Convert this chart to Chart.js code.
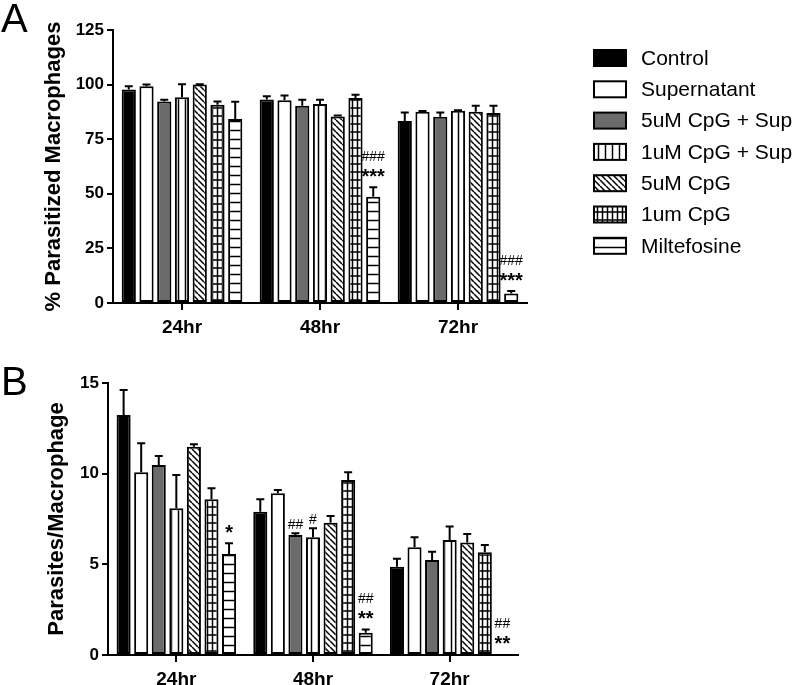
<!DOCTYPE html>
<html>
<head>
<meta charset="utf-8">
<script src="https://cdn.jsdelivr.net/npm/chart.js@4.4.1/dist/chart.umd.min.js"></script>
<style>
  body { margin: 0; background: #fff; }
  #wrap { position: relative; width: 800px; height: 685px; overflow: hidden; }
  canvas { position: absolute; left: 0; }
  #chartA { top: 0; }
  #chartB { top: 335px; }
  .panel { position: absolute; left: 1px; font: 40px "Liberation Sans", Arial, sans-serif; line-height: 1; }
</style>
</head>
<body>
<div id="wrap">
  <canvas id="chartA" width="800" height="335"></canvas>
  <canvas id="chartB" width="800" height="350"></canvas>
  <div class="panel" style="top:-2px">A</div>
  <div class="panel" style="top:361px">B</div>
</div>
<script>
// time points and treatment groups
const timepoints = ['24hr', '48hr', '72hr'];
const groups = ['Control', 'Supernatant', '5uM CpG + Sup', '1uM CpG + Sup', '5uM CpG', '1um CpG', 'Miltefosine'];

// panel A: % parasitized macrophages (mean, SEM) per group
const pctControl = [97.8, 93.2, 83.3];
const pctSupernatant = [99.3, 92.8, 87.6];
const pct5uMSup = [92.3, 90.3, 85.3];
const pct1uMSup = [94.2, 91.1, 88.0];
const pct5uM = [100, 85.4, 87.6];
const pct1uM = [90.8, 93.9, 87.0];
const pctMilte = [84.2, 48.6, 4.3];

const pctControlErr = [1.5, 1.5, 3.9];
const pctSupernatantErr = [0.8, 2.2, 0.3];
const pct5uMSupErr = [0.8, 2.8, 1.9];
const pct1uMSupErr = [6.0, 2.0, 0.2];
const pct5uMErr = [0.2, 0.4, 2.7];
const pct1uMErr = [1.5, 1.5, 3.3];
const pctMilteErr = [8.0, 4.4, 1.2];

// panel B: parasites per macrophage (mean, SEM)
const ppmControl = [13.24, 7.9, 4.87];
const ppmSupernatant = [10.08, 8.92, 5.94];
const ppm5uMSup = [10.48, 6.62, 5.24];
const ppm1uMSup = [8.09, 6.49, 6.34];
const ppm5uM = [11.49, 7.3, 6.21];
const ppm1uM = [8.59, 9.65, 5.66];
const ppmMilte = [5.57, 1.23, 0.05];

const ppmControlErr = [1.38, 0.69, 0.44];
const ppmSupernatantErr = [1.6, 0.18, 0.55];
const ppm5uMSupErr = [0.5, 0.1, 0.46];
const ppm1uMSupErr = [1.84, 0.5, 0.74];
const ppm5uMErr = [0.13, 0.37, 0.46];
const ppm1uMErr = [0.6, 0.43, 0.41];
const ppmMilteErr = [0.59, 0.18, 0];

// significance marks: [group index, timepoint index, lines from bottom up]
const marksA = [[6, 1, '***', '###'], [6, 2, '***', '###']];
const marksB = [[6, 0, '*'], [2, 1, '##'], [3, 1, '#'], [6, 1, '**', '##'], [6, 2, '**', '##']];

const FONT = '"Liberation Sans", Arial, sans-serif';

//builds the hatch fills used by prism style bars
function makePattern(kind) {
  const c = document.createElement('canvas');
  const g = c.getContext('2d');
  let w = 8, h = 8;
  if (kind === 'diag') { w = 6; h = 6; }
  if (kind === 'grid') { w = 5; h = 8; }
  if (kind === 'hlines') { w = 8; h = 9; }
  if (kind === 'vlines') { w = 7; h = 8; }
  c.width = w; c.height = h;
  g.fillStyle = '#fff';
  g.fillRect(0, 0, w, h);
  g.strokeStyle = '#000';
  g.lineWidth = 1.5;
  g.beginPath();
  if (kind === 'vlines' || kind === 'grid') { g.moveTo(w / 2, 0); g.lineTo(w / 2, h); }
  if (kind === 'hlines' || kind === 'grid') { g.moveTo(0, h / 2); g.lineTo(w, h / 2); }
  if (kind === 'diag') {
    for (let x0 = -w; x0 <= w; x0 += w) { g.moveTo(x0, 0); g.lineTo(x0 + h, h); }
  }
  g.stroke();
  return g.createPattern(c, 'repeat');
}

const fills = ['#000', '#fff', '#6b6b6b', makePattern('vlines'), makePattern('diag'), makePattern('grid'), makePattern('hlines')];

function buildDatasets(values, errors) {
  return groups.map((name, i) => ({
    label: name,
    data: values[i],
    errors: errors[i],
    backgroundColor: fills[i],
    borderColor: '#000',
    borderWidth: 2,
    borderSkipped: false,
    categoryPercentage: 0.9,
    barPercentage: 0.8
  }));
}

// error bars (upper only) and significance marks
const barExtras = {
  id: 'barExtras',
  afterDatasetsDraw(chart, args, opts) {
    const ctx = chart.ctx;
    const y = chart.scales.y;
    const tops = [];
    ctx.save();
    ctx.strokeStyle = '#000';
    ctx.lineWidth = 2;
    chart.data.datasets.forEach((ds, i) => {
      tops[i] = [];
      chart.getDatasetMeta(i).data.forEach((bar, j) => {
        const e = ds.errors[j];
        const top = y.getPixelForValue(ds.data[j] + e);
        tops[i][j] = { x: bar.x, y: top };
        if (!e) return;
        ctx.beginPath();
        ctx.moveTo(bar.x, bar.y);
        ctx.lineTo(bar.x, top);
        ctx.moveTo(bar.x - 4, top);
        ctx.lineTo(bar.x + 4, top);
        ctx.stroke();
      });
    });
    ctx.fillStyle = '#000';
    ctx.textAlign = 'center';
    ctx.textBaseline = 'alphabetic';
    opts.marks.forEach(m => {
      const p = tops[m[0]][m[1]];
      let base = p.y - 4;
      m.slice(2).forEach(txt => {
        if (txt.indexOf('*') >= 0) {
          ctx.font = 'bold 20px ' + FONT;
        } else {
          ctx.font = '14px ' + FONT;
        }
        ctx.fillText(txt, p.x, base);
        base -= 22;
      });
    });
    ctx.restore();
  }
};

// legend on the right of panel A
const sideLegend = {
  id: 'sideLegend',
  afterDraw(chart, args, opts) {
    if (!opts.show) return;
    const ctx = chart.ctx;
    ctx.save();
    ctx.font = '21px ' + FONT;
    ctx.textBaseline = 'middle';
    ctx.textAlign = 'left';
    chart.data.datasets.forEach((ds, i) => {
      const cy = 58 + i * 31.3;
      ctx.fillStyle = ds.backgroundColor;
      ctx.fillRect(594, cy - 8, 32, 16);
      ctx.strokeStyle = '#000';
      ctx.lineWidth = 2;
      ctx.strokeRect(594, cy - 8, 32, 16);
      ctx.fillStyle = '#000';
      ctx.fillText(ds.label, 641, cy + 1);
    });
    ctx.restore();
  }
};

function makeChart(canvas, values, errors, cfg) {
  return new Chart(canvas.getContext('2d'), {
    type: 'bar',
    data: { labels: timepoints, datasets: buildDatasets(values, errors) },
    plugins: [barExtras, sideLegend],
    options: {
      responsive: false,
      animation: false,
      layout: { padding: { left: 0, right: cfg.right, top: cfg.top, bottom: 0 } },
      plugins: {
        legend: { display: false },
        tooltip: { enabled: false },
        barExtras: { marks: cfg.marks },
        sideLegend: { show: cfg.legend }
      },
      scales: {
        x: {
          afterFit: s => { s.height = cfg.xHeight; },
          grid: { offset: false, drawOnChartArea: false, tickLength: 7, lineWidth: 2, color: '#000' },
          border: { color: '#000', width: 2 },
          ticks: { color: '#000', padding: 6, font: { family: FONT, size: 19, weight: 'bold' } }
        },
        y: {
          min: 0,
          max: cfg.max,
          afterFit: s => { s.width = cfg.left; },
          grid: { drawOnChartArea: false, tickLength: 6, lineWidth: 2, color: '#000' },
          border: { color: '#000', width: 2 },
          ticks: { stepSize: cfg.step, color: '#000', padding: 3, font: { family: FONT, size: 17, weight: 'bold' } },
          title: {
            display: true,
            text: cfg.title,
            color: '#000',
            padding: { top: cfg.titlePad, bottom: 0 },
            font: { family: FONT, size: 22, weight: 'bold' }
          }
        }
      }
    }
  });
}

makeChart(document.getElementById('chartA'),
  [pctControl, pctSupernatant, pct5uMSup, pct1uMSup, pct5uM, pct1uM, pctMilte],
  [pctControlErr, pctSupernatantErr, pct5uMSupErr, pct1uMSupErr, pct5uMErr, pct1uMErr, pctMilteErr],
  { left: 113, right: 273, top: 30, xHeight: 32, max: 125, step: 25,
    title: '% Parasitized Macrophages', titlePad: 41, marks: marksA, legend: true });

makeChart(document.getElementById('chartB'),
  [ppmControl, ppmSupernatant, ppm5uMSup, ppm1uMSup, ppm5uM, ppm1uM, ppmMilte],
  [ppmControlErr, ppmSupernatantErr, ppm5uMSupErr, ppm1uMSupErr, ppm5uMErr, ppm1uMErr, ppmMilteErr],
  { left: 108, right: 282, top: 48, xHeight: 30, max: 15, step: 5,
    title: 'Parasites/Macrophage', titlePad: 44, marks: marksB, legend: false });
</script>
</body>
</html>
